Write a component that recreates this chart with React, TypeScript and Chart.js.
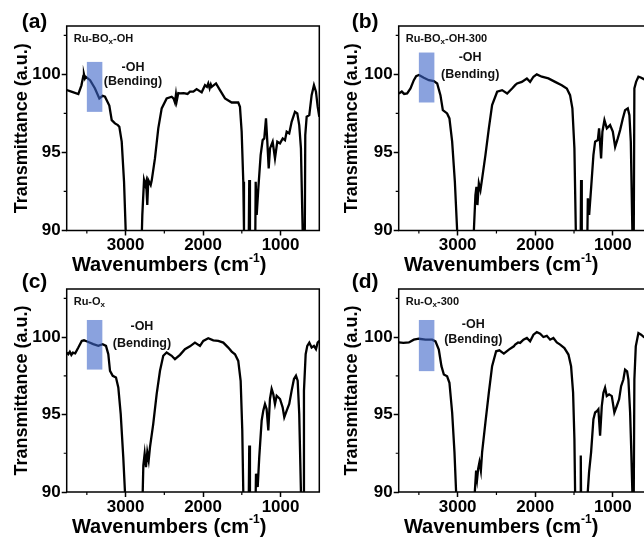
import React, { useEffect, useRef } from 'react';
import { Chart, registerables } from 'chart.js';
Chart.register(...registerables);

const FONT = '"Liberation Sans", Arial, sans-serif';

const X_MIN = 500;
const X_MAX = 3760;
const Y_MIN = 90;
const Y_MAX = 103.1;
const X_TICKS = [3000, 2000, 1000];
const X_MINOR = [3500, 2500, 1500];
const Y_TICKS = [90, 95, 100];
const Y_MINOR = [92.5, 97.5, 102.5];
const BOX_X = [3500, 3300];

// (a) Ru-BOx-OH
const WN_A = [3760, 3700, 3610, 3570, 3545, 3537, 3525, 3515, 3458, 3395, 3339, 3296, 3266, 3210, 3179, 3137, 3100, 3081, 3050, 3020, 2999, 2990, 2800, 2792, 2784, 2762, 2745, 2735, 2720, 2707, 2676, 2663, 2621, 2578, 2534, 2470, 2405, 2380, 2363, 2350, 2340, 2320, 2298, 2250, 2200, 2169, 2126, 2083, 2018, 1975, 1950, 1933, 1915, 1900, 1889, 1833, 1782, 1717, 1631, 1546, 1524, 1502, 1481, 1472, 1465, 1415, 1404, 1395, 1330, 1321, 1308, 1287, 1257, 1231, 1210, 1188, 1171, 1153, 1136, 1102, 1072, 1042, 1007, 972, 943, 921, 888, 857, 814, 784, 759, 737, 715, 705, 690, 681, 663, 629, 599, 569, 543, 521, 500];
const T_A = [99.0, 98.9, 98.74, 99.3, 99.9, 100.0, 99.75, 99.85, 99.63, 99.1, 98.46, 98.63, 98.57, 98.0, 97.07, 96.86, 96.75, 96.65, 95.69, 93.12, 90.03, 88, 88, 89.5, 91.0, 93.23, 92.91, 93.1, 91.63, 93.23, 92.91, 93.2, 94.62, 96.54, 97.82, 98.46, 98.57, 98.45, 98.2, 98.7, 98.3, 98.8, 98.78, 98.8, 98.75, 98.89, 98.89, 99.06, 98.85, 99.31, 99.2, 99.42, 99.1, 99.35, 99.2, 99.42, 98.99, 98.46, 98.2, 98.2, 97.93, 96.33, 93.12, 90.03, 87, 87, 93.23, 87, 87, 93.12, 91.0, 92.7, 94.83, 95.79, 95.9, 97.18, 95.69, 93.98, 95.26, 95.69, 94.62, 95.69, 95.58, 95.9, 95.79, 96.33, 96.22, 96.96, 97.6, 97.5, 96.75, 95.26, 90.03, 87, 87, 96.11, 97.29, 97.39, 98.67, 99.31, 98.89, 97.93, 97.29];

// (b) Ru-BOx-OH-300
const WN_B = [3758, 3720, 3690, 3651, 3608, 3565, 3535, 3500, 3436, 3371, 3307, 3264, 3222, 3191, 3136, 3106, 3071, 3036, 3007, 2995, 2800, 2791, 2771, 2758, 2745, 2727, 2706, 2684, 2642, 2598, 2556, 2491, 2427, 2362, 2298, 2259, 2234, 2173, 2108, 2066, 2023, 1980, 1915, 1830, 1744, 1658, 1593, 1551, 1521, 1495, 1477, 1470, 1418, 1409, 1400, 1335, 1322, 1305, 1280, 1250, 1228, 1193, 1177, 1151, 1134, 1108, 1077, 1035, 1000, 970, 936, 906, 871, 842, 807, 786, 768, 748, 740, 730, 722, 700, 670, 640, 600, 550, 500];
const T_B = [98.78, 98.9, 98.75, 98.78, 99.1, 99.63, 99.89, 99.96, 99.78, 99.63, 99.57, 99.42, 98.67, 97.71, 97.5, 97.18, 95.69, 93.12, 90.03, 88, 88, 90.0, 92.27, 92.8, 91.63, 93.02, 92.59, 93.34, 94.83, 96.54, 98.03, 98.89, 98.99, 98.78, 99.1, 99.31, 99.42, 99.52, 99.74, 99.52, 99.85, 100.0, 99.85, 99.74, 99.52, 99.31, 99.1, 98.67, 97.82, 95.26, 90.03, 87, 87, 93.23, 87, 87, 92.06, 91.0, 92.7, 94.83, 95.69, 95.79, 96.54, 94.62, 96.33, 97.07, 96.54, 96.75, 96.33, 95.36, 95.9, 96.43, 97.18, 97.71, 97.82, 97.39, 95.69, 90.03, 87, 90, 99.1, 99.52, 99.85, 99.8, 99.7, 99.6, 99.5];

// (c) Ru-Ox
const WN_C = [3760, 3740, 3720, 3700, 3680, 3650, 3610, 3566, 3537, 3481, 3417, 3352, 3296, 3253, 3223, 3201, 3166, 3124, 3094, 3063, 3030, 3008, 2995, 2790, 2779, 2771, 2754, 2737, 2720, 2702, 2685, 2643, 2599, 2556, 2514, 2470, 2405, 2363, 2298, 2234, 2169, 2105, 2040, 1997, 1933, 1868, 1804, 1739, 1675, 1631, 1588, 1546, 1515, 1494, 1481, 1470, 1415, 1404, 1395, 1330, 1317, 1295, 1275, 1244, 1223, 1201, 1180, 1158, 1137, 1115, 1094, 1072, 1050, 1007, 973, 952, 921, 888, 857, 827, 801, 779, 759, 737, 730, 705, 698, 676, 655, 629, 599, 569, 543, 521, 500];
const T_C = [99.0, 98.9, 99.05, 98.85, 99.0, 98.95, 99.32, 99.75, 99.79, 99.68, 99.54, 99.43, 99.54, 99.43, 98.89, 97.82, 97.5, 97.39, 96.75, 95.04, 92.25, 90.0, 88, 88, 90, 91.72, 92.47, 91.61, 92.57, 92.04, 92.89, 94.4, 96.32, 97.82, 98.79, 99.0, 98.79, 98.57, 98.85, 99.22, 99.4, 99.64, 99.43, 99.75, 99.92, 99.79, 99.75, 99.64, 99.32, 99.06, 98.89, 98.46, 97.18, 93.97, 90.0, 87, 87, 93.0, 87, 87, 91.18, 90.32, 92.25, 94.61, 95.25, 95.68, 95.36, 93.97, 96.0, 96.65, 96.32, 95.68, 96.21, 96.0, 95.46, 94.82, 95.25, 95.68, 96.54, 97.29, 97.5, 97.18, 95.04, 90, 87, 87, 96.54, 98.89, 99.43, 99.64, 99.32, 99.43, 99.22, 99.64, 99.75];

// (d) Ru-Ox-300
const WN_D = [3758, 3700, 3629, 3565, 3500, 3415, 3329, 3286, 3243, 3209, 3178, 3136, 3106, 3071, 3041, 3020, 3010, 2790, 2779, 2762, 2749, 2736, 2719, 2701, 2685, 2642, 2598, 2556, 2504, 2462, 2405, 2340, 2276, 2259, 2221, 2195, 2152, 2108, 2066, 2023, 1980, 1937, 1895, 1851, 1808, 1766, 1722, 1679, 1624, 1572, 1538, 1512, 1495, 1486, 1478, 1420, 1413, 1405, 1330, 1323, 1306, 1280, 1250, 1228, 1203, 1186, 1164, 1142, 1121, 1100, 1078, 1048, 1013, 980, 949, 919, 893, 864, 842, 816, 799, 777, 764, 748, 740, 730, 722, 704, 670, 635, 600, 550, 500];
const T_D = [99.65, 99.62, 99.65, 99.83, 99.89, 99.83, 99.83, 99.72, 99.19, 98.12, 97.58, 97.47, 97.05, 95.13, 92.56, 90, 88, 88, 90, 91.38, 90.85, 91.49, 91.92, 91.38, 92.56, 94.49, 96.41, 98.12, 99.08, 99.14, 98.93, 99.19, 99.4, 99.51, 99.65, 99.62, 99.83, 99.94, 99.72, 100.15, 100.32, 100.21, 100.0, 100.08, 99.83, 99.94, 99.65, 99.51, 99.29, 98.87, 98.12, 96.41, 93.42, 90, 87, 87, 92.35, 87, 87, 90, 91.28, 92.56, 94.7, 95.13, 95.23, 95.34, 93.63, 95.55, 96.41, 96.73, 96.19, 96.3, 96.19, 95.13, 95.55, 95.98, 96.83, 97.26, 97.9, 97.79, 97.26, 95.13, 92.99, 90, 87, 90, 97.26, 99.4, 100.26, 100.15, 100.0, 99.9, 99.8];

type Part = [string, boolean];

const PANELS = [
  { letter: '(a)', sample: [['Ru-BO', false], ['x', true], ['-OH', false]] as Part[], wn: WN_A, t: T_A, boxY: [97.6, 100.8], note: [2905, 100.47, 99.53], left: 0, top: 0, w: 321, h: 276, padTop: 26, padRight: 1.7, yW: 66.7, xH: 45.5, letterY: 22 },
  { letter: '(b)', sample: [['Ru-BO', false], ['x', true], ['-OH-300', false]] as Part[], wn: WN_B, t: T_B, boxY: [98.2, 101.4], note: [2839, 101.06, 100.0], left: 330, top: 0, w: 324, h: 276, padTop: 26, padRight: 2.4, yW: 68.7, xH: 45.5, letterY: 22 },
  { letter: '(c)', sample: [['Ru-O', false], ['x', true]] as Part[], wn: WN_C, t: T_C, boxY: [97.9, 101.1], note: [2789, 100.65, 99.58], left: 0, top: 263, w: 321, h: 275, padTop: 26, padRight: 1.7, yW: 66.7, xH: 46, letterY: 19.5 },
  { letter: '(d)', sample: [['Ru-O', false], ['x', true], ['-300', false]] as Part[], wn: WN_D, t: T_D, boxY: [97.8, 101.1], note: [2798, 100.83, 99.83], left: 330, top: 263, w: 324, h: 275, padTop: 26, padRight: 2.4, yW: 68.7, xH: 46, letterY: 19.5 },
];

type PanelCfg = typeof PANELS[number];

function Panel({ p }: { p: PanelCfg }) {
  const ref = useRef<HTMLCanvasElement>(null);
  useEffect(() => {
    const deco = {
      id: 'deco',
      afterDatasetsDraw(chart: any) {
        const { ctx, chartArea: a, scales } = chart;
        const xs = scales.x;
        const ys = scales.y;
        ctx.save();
        const x1 = xs.getPixelForValue(BOX_X[0]);
        const x2 = xs.getPixelForValue(BOX_X[1]);
        const y1 = ys.getPixelForValue(p.boxY[1]);
        const y2 = ys.getPixelForValue(p.boxY[0]);
        ctx.fillStyle = 'rgba(60,100,200,0.6)';
        ctx.fillRect(Math.min(x1, x2), y1, Math.abs(x2 - x1), y2 - y1);
        ctx.strokeStyle = '#000';
        ctx.lineWidth = 1.5;
        ctx.strokeRect(a.left, a.top, a.right - a.left, a.bottom - a.top);
        ctx.lineWidth = 1.2;
        ctx.beginPath();
        X_MINOR.forEach((v) => {
          const px = xs.getPixelForValue(v);
          ctx.moveTo(px, a.bottom);
          ctx.lineTo(px, a.bottom + 3);
        });
        Y_MINOR.forEach((v) => {
          const py = ys.getPixelForValue(v);
          ctx.moveTo(a.left, py);
          ctx.lineTo(a.left - 3, py);
        });
        ctx.stroke();
        ctx.fillStyle = '#111';
        ctx.font = `bold 12.5px ${FONT}`;
        ctx.textAlign = 'center';
        ctx.textBaseline = 'middle';
        const nx = xs.getPixelForValue(p.note[0]);
        ctx.fillText('-OH', nx, ys.getPixelForValue(p.note[1]));
        ctx.fillText('(Bending)', nx, ys.getPixelForValue(p.note[2]));
        ctx.textAlign = 'left';
        let sx = a.left + 7;
        const sy = a.top + 12.5;
        p.sample.forEach(([txt, sub]) => {
          ctx.font = sub ? `bold 8px ${FONT}` : `bold 11px ${FONT}`;
          ctx.fillText(txt, sx, sub ? sy + 3 : sy);
          sx += ctx.measureText(txt).width;
        });
        ctx.fillStyle = '#000';
        ctx.font = `bold 21px ${FONT}`;
        ctx.fillText(p.letter, 21.7, p.letterY);
        const cx = a.left + 102.5;
        const cy = a.bottom + 35;
        ctx.font = `bold 20px ${FONT}`;
        const t1 = 'Wavenumbers (cm';
        const t3 = ')';
        const w1 = ctx.measureText(t1).width;
        const w3 = ctx.measureText(t3).width;
        ctx.font = `bold 12px ${FONT}`;
        const w2 = ctx.measureText('-1').width;
        let tx = cx - (w1 + w2 + w3) / 2;
        ctx.font = `bold 20px ${FONT}`;
        ctx.fillText(t1, tx, cy);
        tx += w1;
        ctx.font = `bold 12px ${FONT}`;
        ctx.fillText('-1', tx, cy - 7);
        tx += w2;
        ctx.font = `bold 20px ${FONT}`;
        ctx.fillText(t3, tx, cy);
        ctx.restore();
      },
    };
    const tickFont = { family: FONT, size: 17, weight: 'bold' as const };
    const chart = new Chart(ref.current as HTMLCanvasElement, {
      type: 'line',
      data: {
        datasets: [
          {
            data: p.wn.map((x, i) => ({ x, y: p.t[i] })),
            borderColor: '#000',
            borderWidth: 2.3,
            pointRadius: 0,
            tension: 0,
            fill: false,
          },
        ],
      },
      options: {
        responsive: false,
        animation: false,
        devicePixelRatio: 1,
        layout: { padding: { top: p.padTop, right: p.padRight, left: 0, bottom: 0 } },
        plugins: { legend: { display: false }, tooltip: { enabled: false } },
        scales: {
          x: {
            type: 'linear',
            reverse: true,
            min: X_MIN,
            max: X_MAX,
            afterBuildTicks: (s: any) => {
              s.ticks = X_TICKS.map((v) => ({ value: v }));
            },
            afterFit: (s: any) => {
              s.height = p.xH;
            },
            ticks: { font: tickFont, color: '#000', padding: 0, maxRotation: 0, autoSkip: false, callback: (v: any) => String(v) },
            grid: { drawOnChartArea: false, drawTicks: true, tickLength: 5, tickColor: '#000', tickWidth: 1.5 },
            border: { display: false },
          },
          y: {
            type: 'linear',
            min: Y_MIN,
            max: Y_MAX,
            afterBuildTicks: (s: any) => {
              s.ticks = Y_TICKS.map((v) => ({ value: v }));
            },
            afterFit: (s: any) => {
              s.width = p.yW;
            },
            ticks: { font: tickFont, color: '#000', padding: 1, callback: (v: any) => String(v) },
            grid: { drawOnChartArea: false, drawTicks: true, tickLength: 5, tickColor: '#000', tickWidth: 1.5 },
            border: { display: false },
            title: {
              display: true,
              text: 'Transmittance (a.u.)',
              color: '#000',
              font: { family: FONT, size: 18, weight: 'bold' },
              padding: { top: 11.2, bottom: 0 },
            },
          },
        },
      },
      plugins: [deco],
    });
    return () => chart.destroy();
  }, [p]);
  return (
    <canvas
      ref={ref}
      width={p.w}
      height={p.h}
      style={{ position: 'absolute', left: p.left, top: p.top, width: p.w, height: p.h }}
    />
  );
}

export default function App() {
  return (
    <div style={{ position: 'absolute', left: 0, top: 0, width: 644, height: 539, overflow: 'hidden', background: '#fff' }}>
      {PANELS.map((p) => (
        <Panel key={p.letter} p={p} />
      ))}
    </div>
  );
}
